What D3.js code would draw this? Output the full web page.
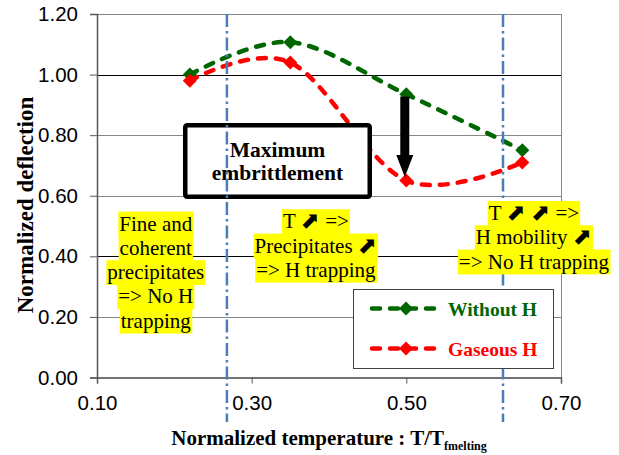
<!DOCTYPE html>
<html>
<head>
<meta charset="utf-8">
<script src="https://cdn.jsdelivr.net/npm/d3@7"></script>
<style>
  body { margin: 0; background: #fff; }
  svg { display: block; }
</style>
</head>
<body>
<script>
(function (d3) {
  "use strict";

  /***** Data *****/
  var temperatures = [0.22, 0.35, 0.50, 0.65];
  var withoutH = [1.00, 1.107, 0.935, 0.75];
  var gaseousH = [0.98, 1.04, 0.65, 0.71];
  var seriesNames = ["Without H", "Gaseous H"];
  var seriesColors = ["#006600", "#ff0000"];
  var xTicks = [0.10, 0.30, 0.50, 0.70];
  var yTicks = [0.00, 0.20, 0.40, 0.60, 0.80, 1.00, 1.20];
  var darkGridValues = [0.40, 1.00];
  var limitTemperatures = [0.268, 0.625];
  var arrowX = 0.498, arrowFrom = 0.928, arrowTo = 0.662;
  var boxLines = ["Maximum", "embrittlement"];
  var leftNote = ["Fine and", "coherent", "precipitates", "=> No H", "trapping"];
  var middleNote = ["T ⬈ =>", "Precipitates ⬈", "=> H trapping"];
  var rightNote = ["T ⬈ ⬈ =>", "H mobility ⬈", "=> No H trapping"];

  /***** Configuration *****/
  var margin = { top: 14, right: 58, bottom: 77.5, left: 97 };
  var width = 619 - margin.left - margin.right;
  var height = 455 - margin.top - margin.bottom;
  var serif = "'Liberation Serif', 'Times New Roman', serif";
  var sans = "'Liberation Sans', Arial, sans-serif";

  var x = d3.scaleLinear().domain([0.1, 0.7]).range([0, width]);
  var y = d3.scaleLinear().domain([0, 1.2]).range([height, 0]);

  var svg = d3.select("body").append("svg")
      .attr("width", 619)
      .attr("height", 455);

  var g = svg.append("g")
      .attr("transform", "translate(" + margin.left + "," + margin.top + ")");

  /***** Grid and frame *****/
  g.append("rect")
      .attr("x", 0.5).attr("y", 0.5)
      .attr("width", width).attr("height", height)
      .attr("fill", "none").attr("stroke", "#868686");

  g.selectAll(".grid")
      .data(yTicks.filter(function (v) { return v > 0 && v < 1.2; }))
      .enter().append("line")
      .attr("x1", 0).attr("x2", width)
      .attr("y1", function (v) { return Math.round(y(v)) + 0.5; })
      .attr("y2", function (v) { return Math.round(y(v)) + 0.5; })
      .attr("stroke", function (v) { return darkGridValues.indexOf(v) >= 0 ? "#000" : "#868686"; })
      .attr("stroke-width", 1);

  /***** Axes *****/
  var yAxis = g.append("g")
      .call(d3.axisLeft(y).tickValues(yTicks).tickFormat(d3.format(".2f")).tickSize(7).tickPadding(12));
  var xAxis = g.append("g")
      .attr("transform", "translate(0," + height + ")")
      .call(d3.axisBottom(x).tickValues(xTicks).tickFormat(d3.format(".2f")).tickSize(6));
  [yAxis, xAxis].forEach(function (ax) {
    ax.select(".domain").attr("stroke", "#595959").attr("stroke-width", 1.5);
    ax.selectAll(".tick line").attr("stroke", "#595959");
    ax.selectAll("text").attr("font-family", sans).attr("font-size", "20.5px").attr("fill", "#000");
  });
  xAxis.selectAll("text").attr("y", 32.5).attr("dy", null);

  svg.append("text")
      .attr("transform", "translate(32.5,205) rotate(-90)")
      .attr("text-anchor", "middle")
      .attr("font-family", serif).attr("font-weight", "bold").attr("font-size", "23px")
      .text("Normalized deflection");

  var xTitle = svg.append("text")
      .attr("x", margin.left + width / 2).attr("y", 444.5)
      .attr("text-anchor", "middle")
      .attr("font-family", serif).attr("font-weight", "bold").attr("font-size", "21px");
  xTitle.append("tspan").text("Normalized temperature : T/T");
  xTitle.append("tspan").attr("font-size", "12px").attr("dy", 5).text("fmelting");

  /***** Series *****/
  var line = d3.line()
      .x(function (d) { return x(d.t); })
      .y(function (d) { return y(d.v); })
      .curve(d3.curveCardinal.tension(0));
  var diamond = d3.symbol(d3.symbolSquare, 98);

  [withoutH, gaseousH].forEach(function (values, i) {
    var pts = temperatures.map(function (t, k) { return { t: t, v: values[k] }; });
    g.append("path")
        .attr("d", line(pts))
        .attr("fill", "none")
        .attr("stroke", seriesColors[i])
        .attr("stroke-width", 4.5)
        .attr("stroke-linecap", "round")
        .attr("stroke-dasharray", "8,10");
    g.selectAll(".m" + i).data(pts).enter().append("path")
        .attr("d", diamond)
        .attr("transform", function (d) { return "translate(" + x(d.t) + "," + y(d.v) + ") rotate(45)"; })
        .attr("fill", seriesColors[i]);
  });

  /***** Legend *****/
  var legend = svg.append("g");
  legend.append("rect")
      .attr("x", 353.5).attr("y", 289.5).attr("width", 200).attr("height", 79)
      .attr("fill", "#fff").attr("stroke", "#404040").attr("stroke-width", 1);
  seriesNames.forEach(function (name, i) {
    var cy = 308.5 + i * 40;
    legend.append("line")
        .attr("x1", 372).attr("x2", 441).attr("y1", cy).attr("y2", cy)
        .attr("stroke", seriesColors[i]).attr("stroke-width", 4.5)
        .attr("stroke-linecap", "round").attr("stroke-dasharray", "8,10");
    legend.append("path")
        .attr("d", diamond)
        .attr("transform", "translate(406," + cy + ") rotate(45)")
        .attr("fill", seriesColors[i]);
    legend.append("text")
        .attr("x", 448).attr("y", cy + 7)
        .attr("font-family", serif).attr("font-weight", "bold").attr("font-size", "19.5px")
        .attr("fill", seriesColors[i])
        .text(name);
  });

  /***** "Maximum embrittlement" box *****/
  var bx0 = x(0.2112) + 2.25, bx1 = x(0.4556) - 2.25;
  var by0 = y(0.840) + 2.25, by1 = y(0.589) - 2.25;
  g.append("rect")
      .attr("x", bx0).attr("y", by0).attr("width", bx1 - bx0).attr("height", by1 - by0)
      .attr("rx", 2)
      .attr("fill", "#fff").attr("stroke", "#000").attr("stroke-width", 4.5);
  boxLines.forEach(function (txt, i) {
    g.append("text")
        .attr("x", (bx0 + bx1) / 2).attr("y", by0 + 32 + i * 23)
        .attr("text-anchor", "middle")
        .attr("font-family", serif).attr("font-weight", "bold").attr("font-size", "21.5px")
        .text(txt);
  });

  /***** Temperature limits *****/
  g.selectAll(".limit").data(limitTemperatures).enter().append("line")
      .attr("x1", function (t) { return x(t); }).attr("x2", function (t) { return x(t); })
      .attr("y1", 0).attr("y2", 408)
      .attr("stroke", "#4a7ebb").attr("stroke-width", 2.5)
      .attr("stroke-dasharray", "13,4,2.5,4");

  /***** Notes with yellow highlight *****/
  function drawNote(lines, cx, firstBaseline) {
    var note = g.append("g");
    var back = note.append("g");
    var front = note.append("g");
    var px = x(cx), py = y(firstBaseline), lh = 24.3;
    lines.forEach(function (txt, i) {
      var t = front.append("text")
          .attr("x", px).attr("y", py + i * lh)
          .attr("text-anchor", "middle")
          .attr("font-family", serif).attr("font-size", "21px");
      txt.split("⬈").forEach(function (part, k) {
        if (k > 0) {
          t.append("tspan")
              .attr("font-family", "'DejaVu Sans', sans-serif")
              .attr("font-size", "23px")
              .text("⬈");
        }
        if (part.length) t.append("tspan").text(part);
      });
      var bb = t.node().getBBox();
      back.append("rect")
          .attr("x", bb.x - 1).attr("y", py + i * lh - 19)
          .attr("width", bb.width + 2).attr("height", lh + 0.5)
          .attr("fill", "#ffff00");
    });
  }
  drawNote(leftNote, 0.176, 0.485);
  drawNote(middleNote, 0.383, 0.4926);
  drawNote(rightNote, 0.665, 0.52);

  /***** Drop arrow *****/
  var ax = x(arrowX), ay0 = y(arrowFrom), ay1 = y(arrowTo);
  g.append("path")
      .attr("d", "M" + (ax - 4.5) + "," + ay0 + "H" + (ax + 4.5) + "V" + (ay1 - 22) +
          "H" + (ax + 8.5) + "L" + ax + "," + ay1 + "L" + (ax - 8.5) + "," + (ay1 - 22) +
          "H" + (ax - 4.5) + "Z")
      .attr("fill", "#000");

})(d3);
</script>
</body>
</html>
